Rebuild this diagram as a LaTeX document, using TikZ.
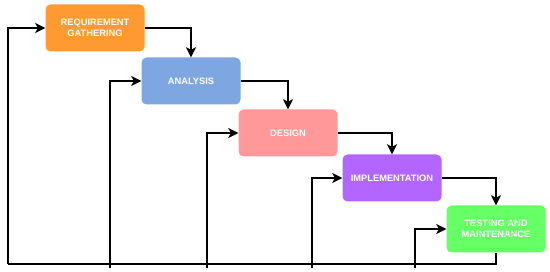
\documentclass[tikz,border=0pt]{standalone}
\usepackage{fontspec}
\setmainfont{Liberation Sans}
\usetikzlibrary{arrows.meta}

\definecolor{reqcol}{HTML}{FF9A33}
\definecolor{anacol}{HTML}{7EA6E0}
\definecolor{descol}{HTML}{FF9999}
\definecolor{impcol}{HTML}{B266FF}
\definecolor{tstcol}{HTML}{66FF66}

\tikzset{
  phase/.style={rounded corners=5pt, minimum width=99pt, minimum height=47pt,
    text=white, font=\fontsize{9.3}{11}\selectfont\bfseries, align=center, inner sep=1pt},
  flow/.style={line width=2.4pt, -{Stealth[length=10pt,width=10pt,inset=2.5pt]}},
  loop/.style={line width=2.4pt}
}

\begin{document}
\begin{tikzpicture}[x=1pt,y=-1pt]
\useasboundingbox (0,0) rectangle (550,272);

% Draw phases
\node[phase, fill=reqcol] (req) at (95,28) {REQUIREMENT\\GATHERING};
\node[phase, fill=anacol] (ana) at (191,81) {ANALYSIS};
\node[phase, fill=descol] (des) at (288,133) {DESIGN};
\node[phase, fill=impcol] (imp) at (392,178) {IMPLEMENTATION};
\node[phase, fill=tstcol] (tst) at (496,229) {TESTING AND\\MAINTENANCE};

% Draw cascade arrows
\draw[flow] (req.east) -| (ana.north);
\draw[flow] (ana.east) -| (des.north);
\draw[flow] (des.east) -| (imp.north);
\draw[flow] (imp.east) -| (tst.north);

% Draw feedback line along the bottom
\coordinate (bot) at (496,264);
\coordinate (lft) at (8,264);
\draw[loop] (tst.south) -- (bot) -- (lft);
\draw[flow] (lft) |- (req.west);

% Draw feedback branches
\foreach \x/\n in {110/ana,207/des,312/imp,415/tst} {
   \coordinate (f\n) at (\x,268);
   \draw[flow] (f\n) |- (\n.west);
}

\end{tikzpicture}
\end{document}
